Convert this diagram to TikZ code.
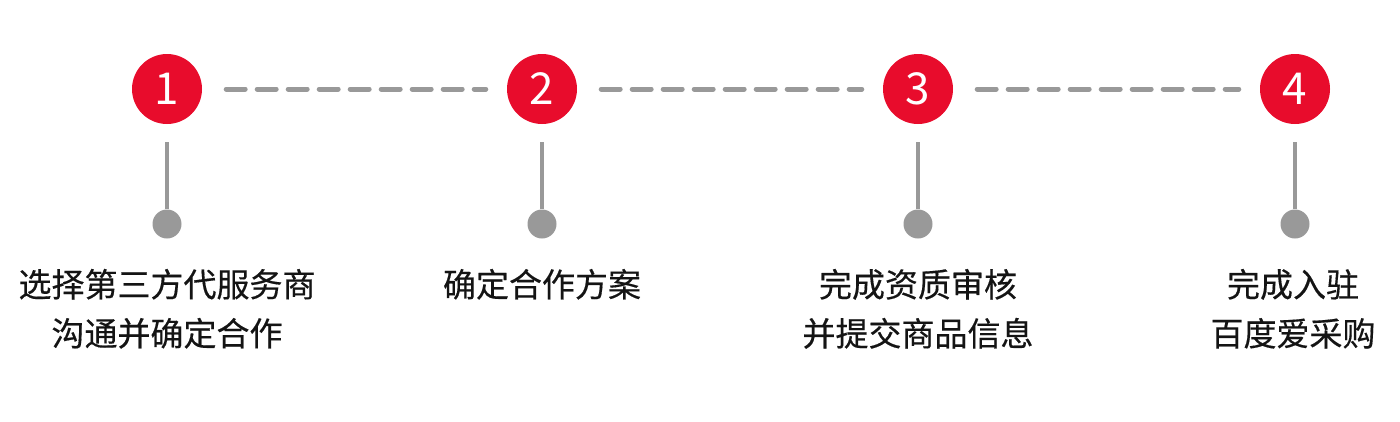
\documentclass[tikz,border=0pt]{standalone}
\usepackage{fontspec}
\setmainfont{Noto Sans CJK SC}
\newfontfamily\labelfont[FakeBold=0.4]{Noto Sans CJK SC}
\usepackage{tikz}
\usetikzlibrary{positioning}
\definecolor{stepred}{RGB}{232,12,44}
\definecolor{stepgray}{RGB}{153,153,153}
\definecolor{stepdark}{RGB}{20,20,20}
\tikzset{
  stepcircle/.style={circle, fill=stepred, minimum size=70pt, inner sep=0pt,
    text=white, font=\fontsize{44}{44}\selectfont},
  stepdot/.style={circle, fill=stepgray, minimum size=29pt, inner sep=0pt},
  steplabel/.style={align=center, inner sep=0pt, text=stepdark,
    font=\labelfont\fontsize{33}{49}\selectfont},
  dashline/.style={stepgray, line width=5pt, line cap=round,
    dash pattern=on 19pt off 12pt, shorten <=24pt, shorten >=21pt},
  stemline/.style={stepgray, line width=4pt, shorten <=18pt}
}

\begin{document}
\begin{tikzpicture}[x=1pt, y=-1pt]
  \useasboundingbox (0,0) rectangle (1400,421);

  % Steps
  \node[stepcircle] (c1) at (167,89) {1};
  \node[stepcircle] (c2) at (542,89) {2};
  \node[stepcircle] (c3) at (918,89) {3};
  \node[stepcircle] (c4) at (1295,89) {4};

  % Dashed links
  \draw[dashline] (c1) -- (c2);
  \draw[dashline] (c2) -- (c3);
  \draw[dashline] (c3) -- (c4);

  % Stems and dots
  \node[stepdot] (d1) at (167,224) {};
  \node[stepdot] (d2) at (542,224) {};
  \node[stepdot] (d3) at (918,224) {};
  \node[stepdot] (d4) at (1295,224) {};
  \draw[stemline] (c1) -- (d1);
  \draw[stemline] (c2) -- (d2);
  \draw[stemline] (c3) -- (d3);
  \draw[stemline] (c4) -- (d4);

  % Labels
  \node[steplabel, below=30pt of d1] (l1) {选择第三方代服务商\\沟通并确定合作};
  \node[steplabel, below=30pt of d2] (l2) {确定合作方案};
  \node[steplabel, below=30pt of d3] (l3) {完成资质审核\\并提交商品信息};
  \node[steplabel, below=30pt of d4, xshift=-2pt] (l4) {完成入驻\\百度爱采购};
\end{tikzpicture}
\end{document}
